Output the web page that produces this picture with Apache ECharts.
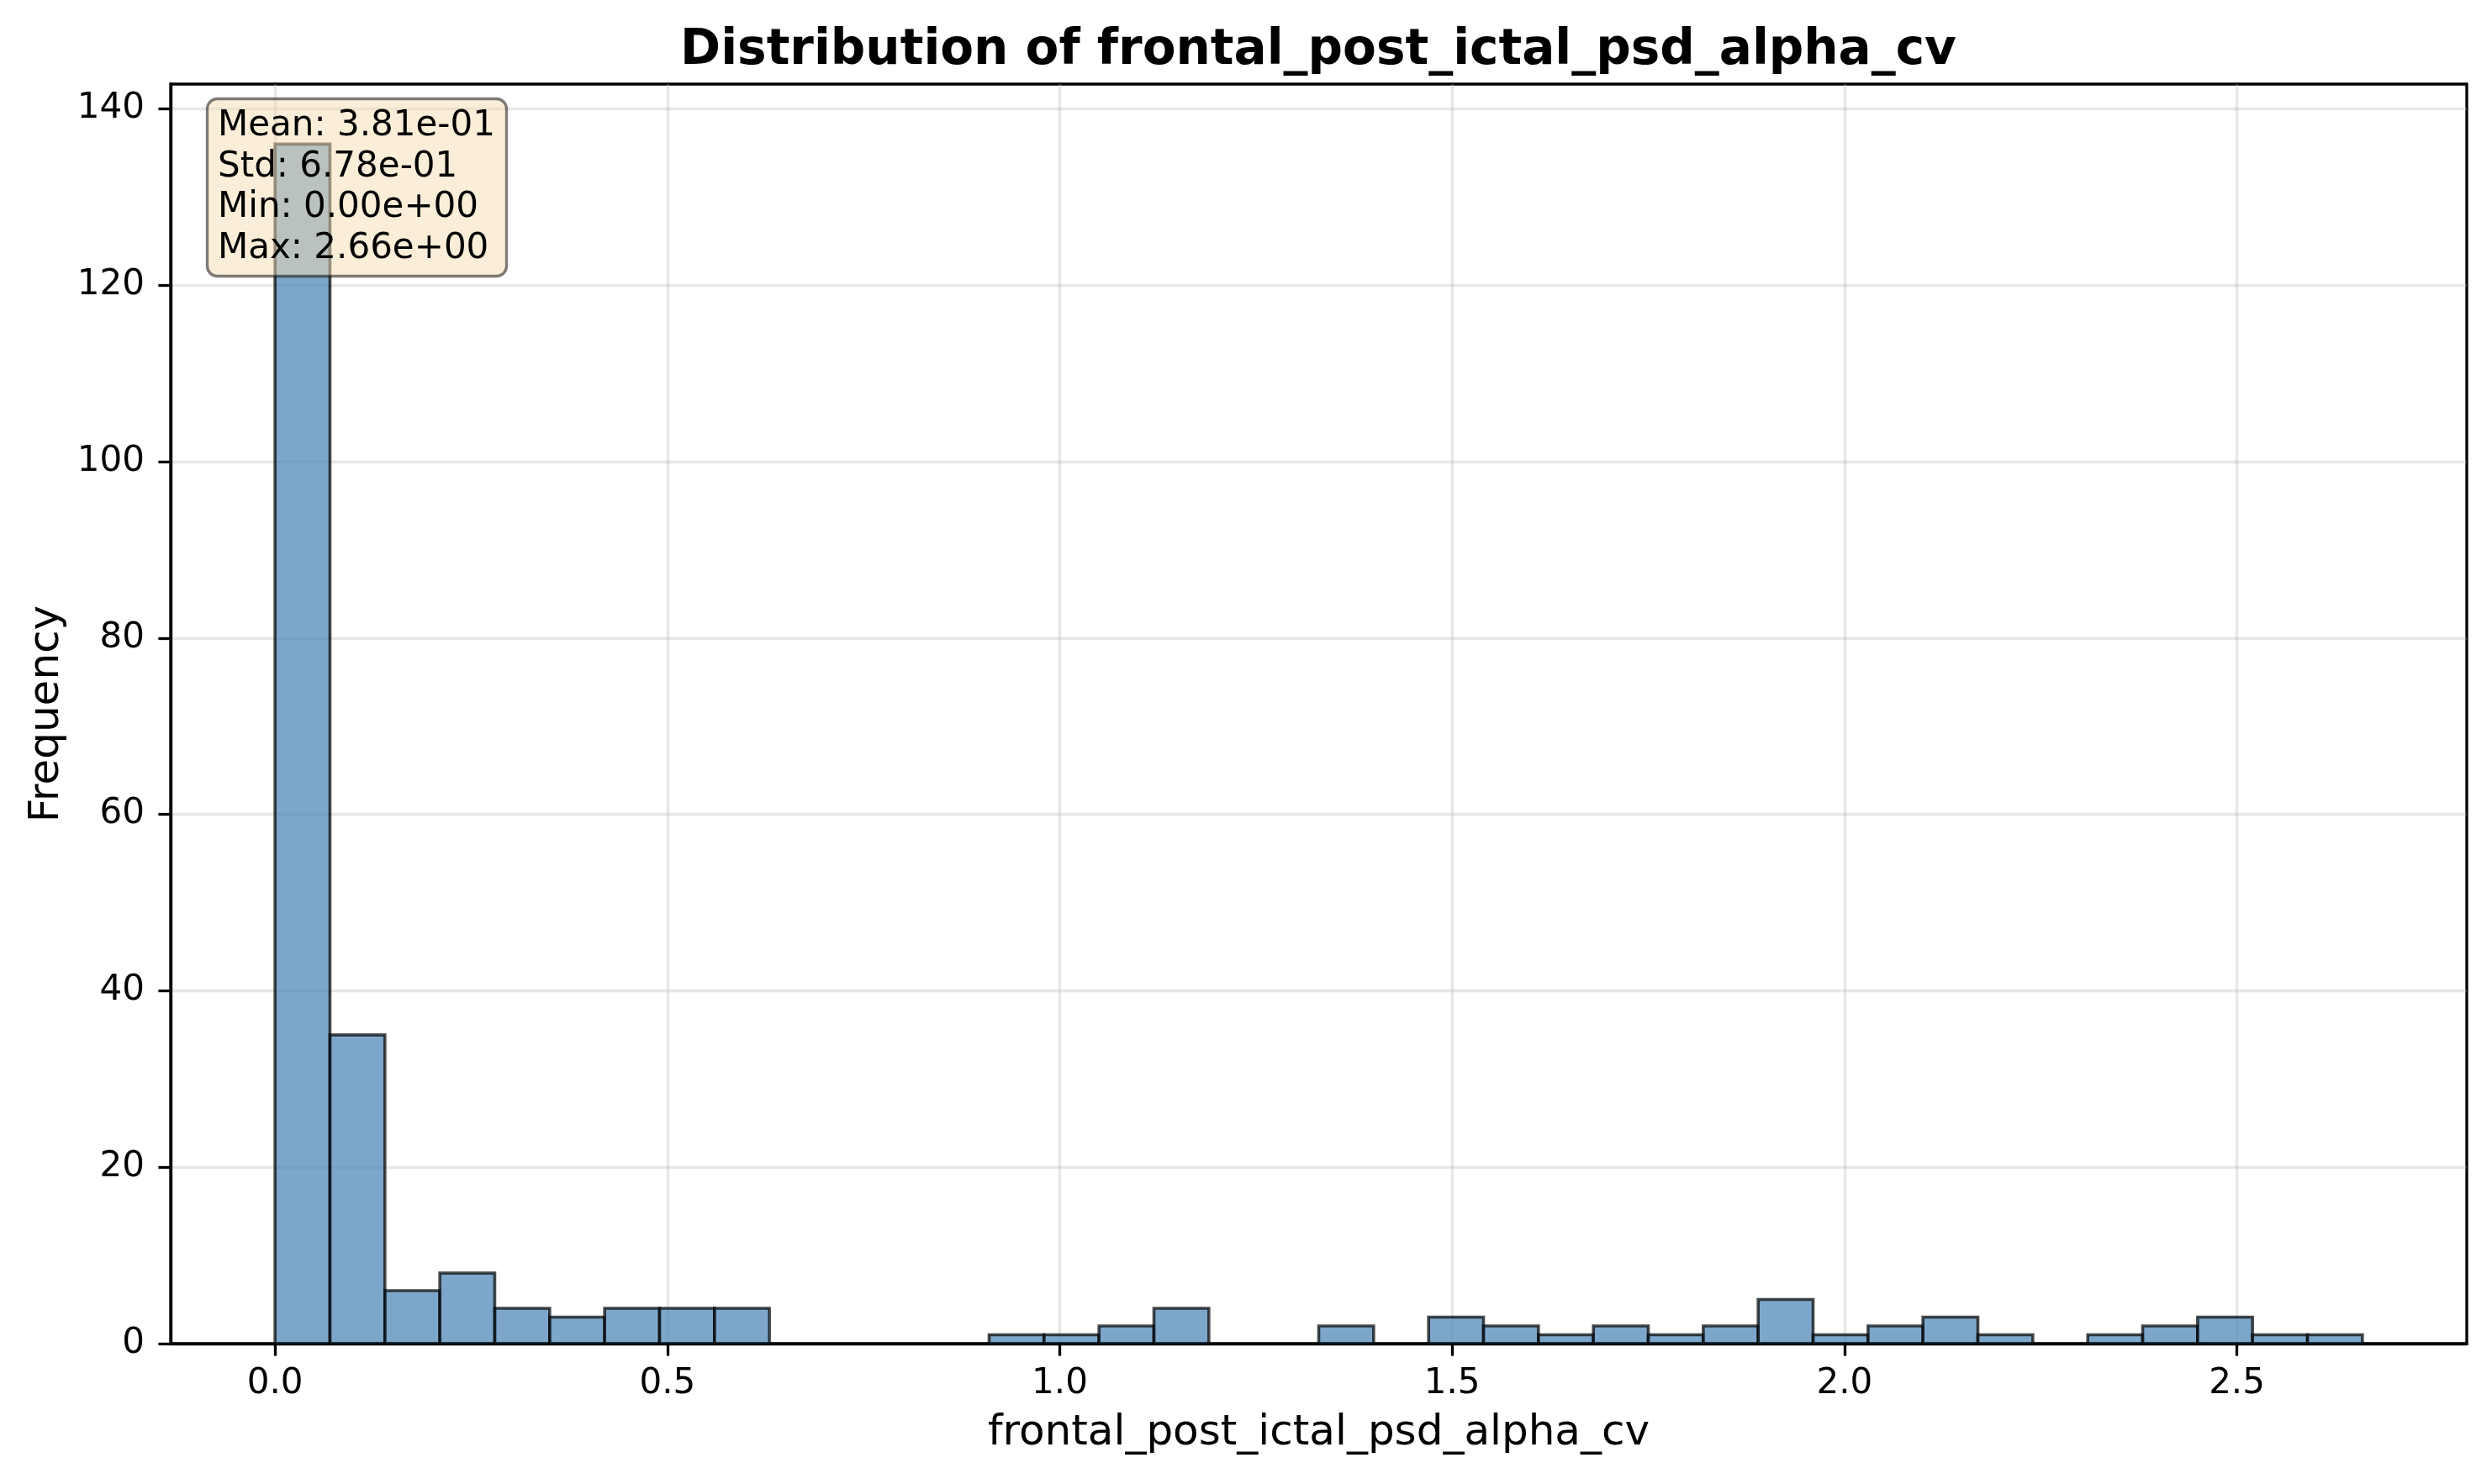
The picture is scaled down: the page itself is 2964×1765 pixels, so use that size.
<!DOCTYPE html>
<html>
<head>
<meta charset="utf-8">
<title>Distribution of frontal_post_ictal_psd_alpha_cv</title>
<script src="https://cdn.jsdelivr.net/npm/echarts@6/dist/echarts.min.js"></script>
<style>
  html, body { margin: 0; padding: 0; background: #fff; }
  #chart { width: 2964px; height: 1765px; }
</style>
</head>
<body>
<div id="chart"></div>
<script>
// histogram: 38 equal bins from 0 to 2.66
var binStart = 0;
var binWidth = 0.07;
var binCounts = [136, 35, 6, 8, 4, 3, 4, 4, 4, 0,
                 0, 0, 0, 1, 1, 2, 4, 0, 0, 2,
                 0, 3, 2, 1, 2, 1, 2, 5, 1, 2,
                 3, 1, 0, 1, 2, 3, 1, 1];

var xTicks = [0, 0.5, 1.0, 1.5, 2.0, 2.5];
var yTicks = [0, 20, 40, 60, 80, 100, 120, 140];

var statLines = ['Mean: 3.81e-01', 'Std: 6.78e-01', 'Min: 0.00e+00', 'Max: 2.66e+00'];

var titleText = 'Distribution of frontal_post_ictal_psd_alpha_cv';
var xName = 'frontal_post_ictal_psd_alpha_cv';
var yName = 'Frequency';

var FONT = 'DejaVu Sans';

// [left edge, right edge, count]
var histData = [];
binCounts.forEach(function (c, i) {
  if (c > 0) {
    histData.push([binStart + i * binWidth, binStart + (i + 1) * binWidth, c]);
  }
});

var chart = echarts.init(document.getElementById('chart'));

var option = {
  backgroundColor: '#fff',
  animation: false,
  title: [{
    text: statLines.join('\n'),
    left: 246,
    top: 117,
    padding: [9, 14, 9, 13],
    backgroundColor: 'rgba(245,222,179,0.5)',
    borderColor: 'rgba(0,0,0,0.5)',
    borderWidth: 3.3,
    borderRadius: 12,
    textStyle: {
      fontFamily: FONT,
      fontSize: 42,
      fontWeight: 'normal',
      lineHeight: 48.5,
      color: '#000'
    }
  }],
  graphic: [{
    type: 'text',
    x: 1568,
    y: 61,
    style: {
      text: titleText,
      font: 'bold 58px "DejaVu Sans"',
      fill: '#000',
      textAlign: 'center',
      textVerticalAlign: 'middle'
    }
  }],
  grid: {
    left: 203,
    right: 30,
    top: 100,
    bottom: 167,
    show: true,
    borderColor: '#000',
    borderWidth: 3.3
  },
  xAxis: {
    type: 'value',
    min: -0.133,
    max: 2.793,
    name: xName,
    nameLocation: 'middle',
    nameGap: 82,
    nameTextStyle: { fontFamily: FONT, fontSize: 50, color: '#000' },
    axisLine: { show: true, onZero: false, lineStyle: { color: '#000', width: 3.3 } },
    axisTick: {
      show: true,
      customValues: xTicks,
      length: 14.6,
      lineStyle: { color: '#000', width: 3.3 }
    },
    axisLabel: {
      customValues: xTicks,
      formatter: function (v) { return v.toFixed(1); },
      margin: 27,
      fontFamily: FONT,
      fontSize: 42,
      color: '#000'
    },
    splitLine: { show: true, lineStyle: { color: '#b0b0b0', opacity: 0.3, width: 3.3 } }
  },
  yAxis: {
    type: 'value',
    min: 0,
    max: 142.8,
    name: yName,
    nameLocation: 'middle',
    nameGap: 121,
    nameTextStyle: { fontFamily: FONT, fontSize: 50, color: '#000' },
    axisLine: { show: true, onZero: false, lineStyle: { color: '#000', width: 3.3 } },
    axisTick: {
      show: true,
      customValues: yTicks,
      length: 14.6,
      lineStyle: { color: '#000', width: 3.3 }
    },
    axisLabel: {
      customValues: yTicks,
      margin: 31,
      fontFamily: FONT,
      fontSize: 42,
      color: '#000'
    },
    splitLine: { show: true, lineStyle: { color: '#b0b0b0', opacity: 0.3, width: 3.3 } }
  },
  series: [{
    type: 'custom',
    data: histData,
    encode: { x: [0, 1], y: 2 },
    renderItem: function (params, api) {
      var p0 = api.coord([api.value(0), 0]);
      var p1 = api.coord([api.value(1), api.value(2)]);
      return {
        type: 'rect',
        shape: { x: p0[0], y: p1[1], width: p1[0] - p0[0], height: p0[1] - p1[1] },
        style: { fill: 'rgba(70,130,180,0.7)', stroke: 'rgba(0,0,0,0.7)', lineWidth: 3.6 }
      };
    }
  }]
};

chart.setOption(option);
</script>
</body>
</html>
